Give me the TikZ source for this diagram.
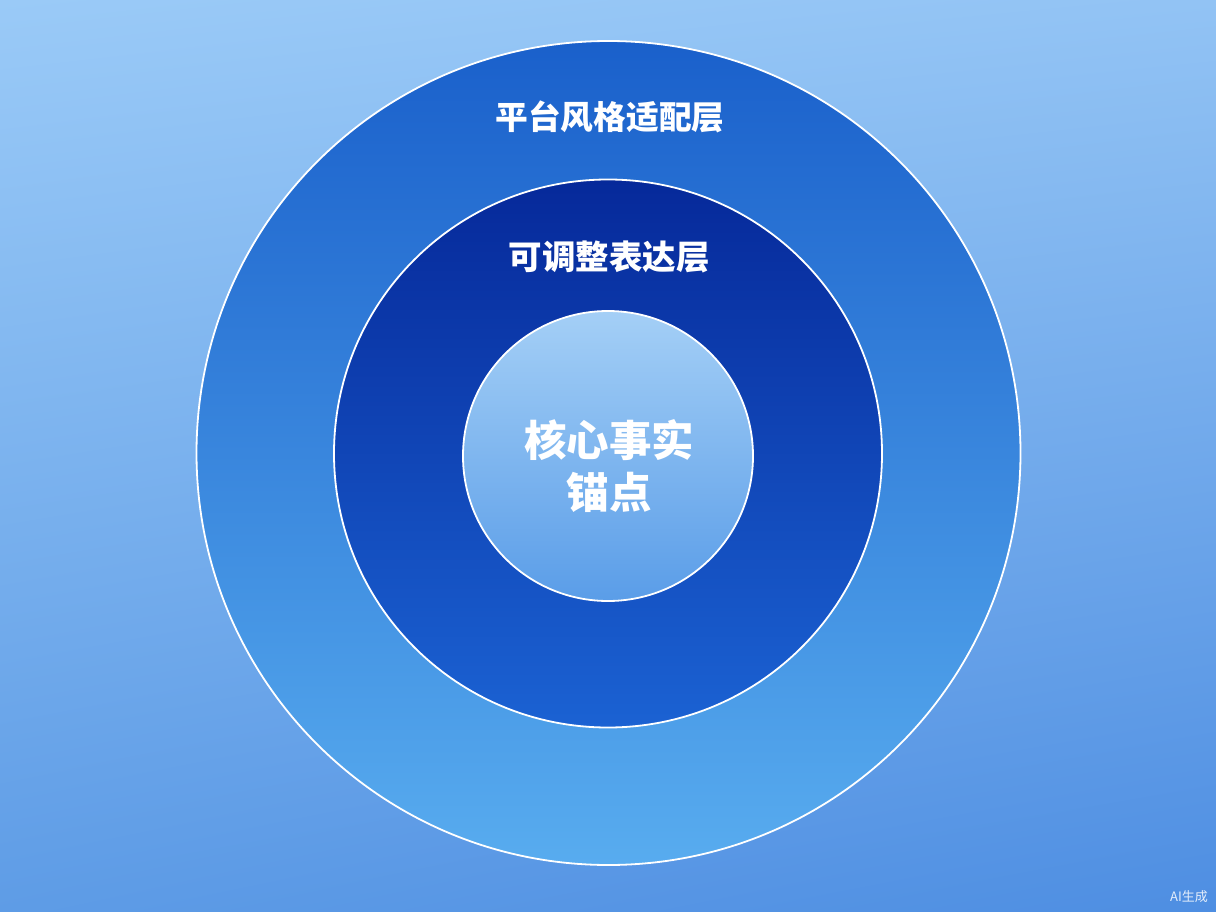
\documentclass[tikz,border=0pt]{standalone}
\usepackage{fontspec}
\usetikzlibrary{shadings}
\newfontfamily\cjk{Noto Sans CJK SC}
\definecolor{bgTL}{HTML}{9ACAF7}
\definecolor{bgTR}{HTML}{92C3F4}
\definecolor{bgBL}{HTML}{5E9CE6}
\definecolor{bgBR}{HTML}{4E8EE2}
\definecolor{outTop}{HTML}{1A60CB}
\definecolor{outBot}{HTML}{58ACEF}
\definecolor{midTop}{HTML}{06299A}
\definecolor{midBot}{HTML}{1B62D3}
\definecolor{inTop}{HTML}{A4CFF6}
\definecolor{inBot}{HTML}{5A9DE8}
\tikzset{
  ring/.style={circle, draw=white, line width=1.8pt, inner sep=0pt},
  lbl/.style={text=white, align=center}
}
\begin{document}
\begin{tikzpicture}[x=1pt,y=-1pt]
\useasboundingbox (0,0) rectangle (1216,912);
\shade[upper left=bgTL, upper right=bgTR, lower left=bgBL, lower right=bgBR] (0,0) rectangle (1216,912);
\node[ring, minimum size=824pt, top color=outTop, bottom color=outBot] (outer) at (608.5,453) {};
\node[ring, minimum size=548pt, top color=midTop, bottom color=midBot] (middle) at (608,453.5) {};
\node[ring, minimum size=290pt, top color=inTop, bottom color=inBot] (inner) at (608,456) {};
\node[lbl, font=\cjk\bfseries\fontsize{32.7}{38}\selectfont] (l1) at (610,117) {平台风格适配层};
\node[lbl, font=\cjk\bfseries\fontsize{33.5}{38}\selectfont] (l2) at (609,257) {可调整表达层};
\node[lbl, font=\cjk\bfseries\fontsize{42.5}{52}\selectfont] (l3) at (609,466) {核心事实\\锚点};
\node[text=white!85!bgBR, font=\cjk\fontsize{13}{15}\selectfont] (ai) at (1189,897) {AI生成};
\end{tikzpicture}
\end{document}
